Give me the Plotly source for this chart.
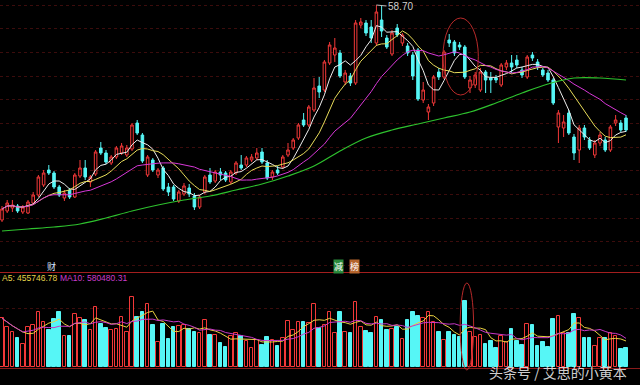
import plotly.graph_objects as go
import pandas as pd

# ---------------- data ----------------
idx = list(range(121))

opens = [37.2, 38.1, 38.4, 38.6, 38.0, 37.9, 38.9, 39.7, 40.7, 42.2,
         41.9, 40.5, 39.4, 40.2, 39.5, 41.6, 42.4, 41.0, 41.8, 44.4,
         43.9, 42.9, 43.5, 43.9, 43.7, 44.3, 46.9, 45.7, 41.7, 43.2,
         41.7, 42.4, 40.5, 40.5, 39.1, 39.8, 40.4, 39.6, 38.5, 40.0,
         41.7, 41.1, 42.0, 41.9, 41.0, 41.9, 42.7, 42.7, 43.2, 43.4,
         44.0, 42.9, 41.5, 42.2, 42.5, 43.7, 44.4, 45.4, 47.2, 46.7,
         48.2, 50.6, 50.2, 52.9, 53.7, 53.9, 51.0, 51.6, 50.9, 56.7,
         56.9, 56.5, 54.9, 57.2, 55.4, 53.8, 56.4, 54.9, 54.6, 53.7,
         54.2, 49.2, 48.0, 48.9, 52.0, 51.5, 55.2, 55.0, 54.7, 54.5,
         50.4, 50.7, 50.2, 52.0, 51.4, 51.4, 50.7, 52.5, 52.9, 53.2,
         52.2, 51.5, 53.7, 53.0, 52.2, 51.9, 51.2, 46.5, 46.4, 47.9,
         45.5, 44.2, 46.4, 45.2, 43.7, 44.9, 45.2, 44.2, 46.9, 46.9,
         47.4]

closes = [38.3, 38.9, 38.7, 38.1, 38.5, 39.0, 39.7, 41.5, 41.9, 41.9,
          40.5, 39.7, 39.9, 39.5, 41.7, 42.4, 41.5, 41.5, 44.0, 43.9,
          43.0, 43.5, 44.4, 44.6, 44.4, 46.7, 45.9, 43.1, 43.5, 42.2,
          42.2, 40.3, 40.0, 39.3, 40.0, 40.6, 39.8, 38.5, 39.5, 41.5,
          41.0, 42.0, 41.7, 41.2, 42.0, 42.9, 42.4, 43.4, 43.5, 43.9,
          43.0, 41.4, 42.0, 41.9, 43.5, 44.2, 45.2, 46.7, 46.7, 48.5,
          50.4, 50.0, 53.0, 54.7, 54.4, 51.6, 51.9, 50.9, 56.9, 57.0,
          55.9, 55.4, 58.0, 56.1, 54.5, 55.9, 55.7, 55.7, 53.9, 51.6,
          49.3, 50.2, 48.5, 51.5, 51.5, 54.0, 54.9, 53.9, 54.5, 51.5,
          51.2, 51.7, 52.0, 51.2, 51.2, 51.2, 52.7, 52.9, 52.5, 52.7,
          51.7, 53.5, 53.4, 52.5, 51.7, 51.2, 48.9, 47.9, 47.0, 45.9,
          43.9, 46.4, 45.5, 44.4, 44.9, 45.7, 44.2, 46.5, 47.2, 46.2,
          46.2]

highs = [38.6, 39.2, 39.2, 38.8, 38.7, 39.2, 40.0, 41.7, 42.2, 42.7,
         42.1, 40.7, 40.2, 40.4, 41.9, 43.2, 43.2, 41.7, 44.2, 45.0,
         44.2, 43.7, 44.6, 44.9, 44.7, 46.9, 47.2, 45.9, 43.7, 43.4,
         42.4, 42.6, 40.9, 40.7, 40.2, 40.9, 40.8, 39.9, 39.7, 41.7,
         42.4, 42.2, 42.4, 42.1, 42.2, 43.1, 43.7, 43.6, 43.8, 44.4,
         44.4, 43.2, 42.2, 42.6, 43.7, 44.9, 45.4, 46.9, 47.9, 48.7,
         51.4, 51.5, 53.2, 55.0, 55.4, 54.2, 52.2, 51.9, 57.2, 57.4,
         57.2, 57.2, 58.7, 58.6, 55.7, 56.2, 56.8, 55.9, 54.9, 54.0,
         54.4, 51.0, 48.8, 51.7, 52.4, 54.2, 55.8, 55.2, 55.0, 54.7,
         51.6, 52.0, 52.4, 52.2, 52.0, 51.7, 52.9, 53.2, 53.7, 53.7,
         52.5, 53.7, 54.0, 53.3, 52.4, 52.2, 51.4, 48.2, 47.7, 48.2,
         45.8, 46.7, 46.7, 45.5, 45.2, 46.0, 45.5, 46.7, 47.7, 47.2,
         47.7]

lows = [37.0, 37.9, 38.0, 37.9, 37.8, 37.8, 38.7, 39.5, 40.5, 41.7,
        40.3, 39.5, 39.1, 39.3, 39.4, 41.4, 41.2, 40.5, 41.6, 43.7,
        42.8, 42.7, 43.3, 43.7, 43.5, 44.1, 45.7, 42.9, 41.5, 42.0,
        41.4, 40.1, 39.6, 39.1, 38.9, 39.6, 39.5, 38.2, 38.3, 39.8,
        40.8, 40.9, 41.2, 41.0, 40.8, 41.7, 42.2, 42.5, 43.0, 43.2,
        42.8, 41.2, 41.2, 41.7, 42.3, 43.5, 44.2, 45.2, 46.5, 46.5,
        48.0, 49.4, 50.0, 52.7, 53.0, 51.4, 50.7, 50.6, 50.7, 56.4,
        55.6, 54.9, 54.6, 55.5, 54.3, 53.6, 55.5, 54.6, 53.6, 51.2,
        49.1, 48.9, 47.2, 48.6, 51.2, 51.3, 54.5, 53.6, 54.2, 51.3,
        49.9, 50.4, 50.0, 49.9, 49.9, 50.9, 50.5, 52.2, 51.9, 52.4,
        51.4, 51.3, 53.1, 52.2, 51.5, 51.0, 48.7, 44.9, 45.5, 45.7,
        43.2, 42.9, 45.2, 44.2, 43.4, 44.6, 44.0, 44.0, 46.6, 46.0,
        46.0]

volumes = [735000, 609000, 525000, 435000, 345000, 609000, 635000, 834000, 675000, 560000,
           720000, 825000, 470000, 470000, 800000, 735000, 710000, 560000, 900000, 650000,
           585000, 560000, 570000, 759000, 534000, 1050000, 759000, 825000, 945000, 635000,
           384000, 650000, 420000, 609000, 620000, 635000, 570000, 534000, 510000, 710000,
           485000, 485000, 369000, 300000, 470000, 510000, 474000, 399000, 285000, 410000,
           335000, 459000, 410000, 324000, 435000, 695000, 560000, 675000, 684000, 660000,
           950000, 594000, 635000, 834000, 510000, 834000, 534000, 519000, 975000, 609000,
           545000, 510000, 750000, 710000, 560000, 570000, 600000, 420000, 710000, 834000,
           774000, 735000, 834000, 684000, 534000, 410000, 534000, 485000, 459000, 999000,
           534000, 459000, 485000, 345000, 395000, 294000, 470000, 384000, 570000, 395000,
           335000, 650000, 635000, 320000, 375000, 309000, 725000, 770000, 510000, 510000,
           800000, 735000, 435000, 435000, 320000, 435000, 435000, 510000, 470000, 275000,
           285000]

# 60-day average
ma60_idx = [0, 5, 10, 15, 20, 25, 30, 35, 40, 45, 50, 55, 60, 65, 70, 75, 80, 85,
            90, 95, 100, 105, 110, 115, 120]
ma60_val = [36.1, 36.3, 36.5, 36.8, 37.4, 38.1, 38.7, 39.2, 39.6, 40.2, 40.8, 41.6,
            42.6, 44.1, 45.4, 46.2, 46.8, 47.4, 48.0, 48.9, 49.9, 50.8, 51.4, 51.4, 51.2]

high_label = "58.70"
vol_ma5_label = "A5: 455746.78"
vol_ma10_label = "MA10: 580480.31"
watermark = "头条号 / 艾思的小黄本"

# ---------------- derived ----------------
cs = pd.Series(closes)
ma5 = cs.rolling(5, min_periods=1).mean()
ma10 = cs.rolling(10, min_periods=1).mean()
ma20 = cs.rolling(20, min_periods=1).mean()
vs = pd.Series(volumes)
vma5 = vs.rolling(5, min_periods=1).mean()
vma10 = vs.rolling(10, min_periods=1).mean()
up = [c >= o for o, c in zip(opens, closes)]

W, H = 640, 385
def px(x):
    return x / W
def py(y):
    return 1 - y / H

RED = "#f23838"
CYAN = "#56f6f6"
BG = "#000000"
GRID = "#3c0c0c"

fig = go.Figure()
fig.add_trace(go.Candlestick(
    x=idx, open=opens, high=highs, low=lows, close=closes,
    increasing=dict(line=dict(color=RED, width=1), fillcolor=BG),
    decreasing=dict(line=dict(color=CYAN, width=1), fillcolor=CYAN),
    whiskerwidth=0, showlegend=False, hoverinfo="skip", xaxis="x", yaxis="y"))

for ser, col in [(ma5, "#eeeeee"), (ma10, "#e8dc5a"), (ma20, "#d838d8")]:
    fig.add_trace(go.Scatter(x=idx, y=ser, mode="lines", line=dict(color=col, width=1),
                             showlegend=False, hoverinfo="skip", xaxis="x", yaxis="y"))
fig.add_trace(go.Scatter(x=ma60_idx, y=ma60_val, mode="lines",
                         line=dict(color="#2ec22e", width=1.2, shape="spline"),
                         showlegend=False, hoverinfo="skip", xaxis="x", yaxis="y"))

fig.add_trace(go.Bar(
    x=idx, y=volumes, width=0.68,
    marker=dict(color=[BG if u else CYAN for u in up],
                line=dict(color=[RED if u else CYAN for u in up], width=1)),
    showlegend=False, hoverinfo="skip", xaxis="x", yaxis="y2"))
fig.add_trace(go.Scatter(x=idx, y=vma5, mode="lines", line=dict(color="#e8d040", width=1),
                         showlegend=False, hoverinfo="skip", xaxis="x", yaxis="y2"))
fig.add_trace(go.Scatter(x=idx, y=vma10, mode="lines", line=dict(color="#c838c8", width=1),
                         showlegend=False, hoverinfo="skip", xaxis="x", yaxis="y2"))

main_bottom = py(272)
vol_bottom = py(367.3)

fig.update_layout(
    width=W, height=H, margin=dict(l=0, r=0, t=0, b=0),
    paper_bgcolor=BG, plot_bgcolor=BG,
    showlegend=False, bargap=0,
    xaxis=dict(range=[-0.385, 122.69], visible=False, rangeslider=dict(visible=False),
               domain=[0, 1], anchor="y"),
    yaxis=dict(domain=[main_bottom, 1], range=[32.0, 59.2], showgrid=True, gridcolor=GRID,
               griddash="dot", gridwidth=1, tickmode="linear", tick0=58.7, dtick=2.367,
               showticklabels=False, zeroline=False, ticks="", showline=False),
    yaxis2=dict(domain=[vol_bottom, main_bottom], range=[0, 1429500], showgrid=True,
                gridcolor=GRID, griddash="dot", tickmode="linear", tick0=0, dtick=889500,
                showticklabels=False, zeroline=False, ticks="", showline=False),
)

shapes = [
    dict(type="line", xref="paper", yref="paper", x0=0, x1=1, y0=py(272.5), y1=py(272.5),
         line=dict(color="#a31e1e", width=1.2)),
    dict(type="line", xref="paper", yref="paper", x0=0, x1=1, y0=py(368.5), y1=py(368.5),
         line=dict(color="#8a1a1a", width=1.2)),
    dict(type="circle", xref="x", yref="y", x0=84.8, x1=91.6, y0=49.7, y1=57.4,
         line=dict(color="#b82a2a", width=1)),
    dict(type="circle", xref="x", yref="paper", x0=88.1, x1=90.7, y0=py(370), y1=py(283),
         line=dict(color="#b82a2a", width=1)),
]
fig.update_layout(shapes=shapes)

ann = [
    dict(x=72, y=58.7, xref="x", yref="y", text=high_label, showarrow=True, arrowhead=0,
         arrowwidth=1, arrowcolor="#bbbbbb", ax=10, ay=1, xanchor="left", yanchor="middle",
         font=dict(family="Liberation Sans", size=10, color="#cfcfcf")),
    dict(x=px(0), y=py(277.5), xref="paper", yref="paper", text=vol_ma5_label,
         showarrow=False, xanchor="left", yanchor="middle",
         font=dict(family="Liberation Sans", size=8.5, color="#e6d24a")),
    dict(x=px(58), y=py(277.5), xref="paper", yref="paper", text=vol_ma10_label,
         showarrow=False, xanchor="left", yanchor="middle",
         font=dict(family="Liberation Sans", size=8.5, color="#cc3ccc")),
    dict(x=px(51), y=py(266.5), xref="paper", yref="paper", text="财", showarrow=False,
         xanchor="center", yanchor="middle",
         font=dict(family="Noto Sans CJK SC", size=9, color="#cfe0ff")),
    dict(x=px(338), y=py(266.5), xref="paper", yref="paper", text="减", showarrow=False,
         xanchor="center", yanchor="middle", bgcolor="#2a8a3c", borderpad=0,
         font=dict(family="Noto Sans CJK SC", size=9, color="#ffffff")),
    dict(x=px(354), y=py(266.5), xref="paper", yref="paper", text="榜", showarrow=False,
         xanchor="center", yanchor="middle", bgcolor="#b4642c", borderpad=0,
         font=dict(family="Noto Sans CJK SC", size=9, color="#ffffff")),
    dict(x=px(558), y=py(372), xref="paper", yref="paper", text=watermark, showarrow=False,
         xanchor="center", yanchor="middle",
         font=dict(family="Noto Sans CJK SC", size=14, color="rgba(235,235,235,0.9)")),
]
fig.update_layout(annotations=ann)

fig.write_html("out.html")
